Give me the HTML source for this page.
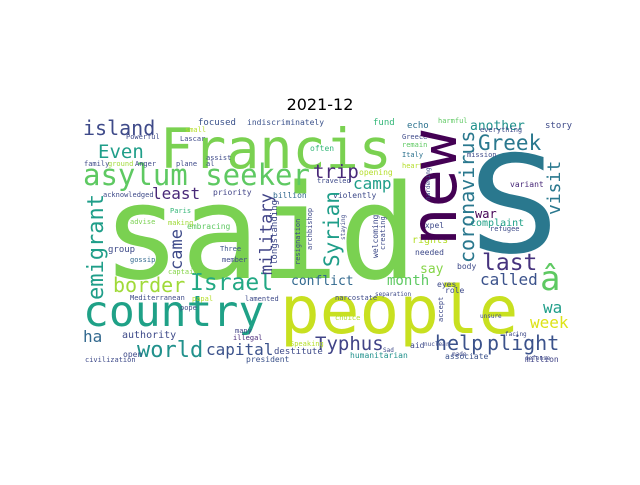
<!DOCTYPE html>
<html><head><meta charset="utf-8"><style>
html,body{margin:0;padding:0;background:#fff;}
svg text{font-family:"DejaVu Sans Mono","Liberation Mono",monospace;}
</style></head><body>
<svg width="640" height="480" xmlns="http://www.w3.org/2000/svg">
<rect width="640" height="480" fill="#fff"/>
<text x="320" y="110" font-size="16" text-anchor="middle" fill="#000" style="font-family:'DejaVu Sans',sans-serif">2021-12</text>
<g id="cloud"></g>
</svg>
<script>
const words=["said","S","people","Francis","country","asylum seeker","island","Even","least","border","Israel","world","capital","ha","authority","trip","camp","Greek","another","last","called","say","month","conflict","help","plight","Typhus","week","wa","â","war","complaint","rights","fund","echo","focused","indiscriminately","priority","billion","group","embracing","advise","making","Paris","gossip","captain","Three","member","pope","papal","open","destitute","president","civilization","Mediterranean","lamented","many","illegal","violently","opening","variant","humanitarian","aid","associate","million","needed","body","eyes","role","expel","refugee","Greece","Italy","remain","mission","everything","story","Lascar","assist","al","plane","family","ground","Anger","Powerful","small","acknowledged","often","heart","traveled","harmful","choice","Speaking","made","Sad","nuclear","facing","unsure","defense","narcostate","separation"];
const sizes=[131,135,66,55,43,29,20,19,16,20,23,22,16,16,10,19,16,21,13,23,16,13,14,13,20,20,19,16,16,34,12,10,10,9,9,9,8,8,8,9,8,7,7,7,7,7,7,7,7,7,8,9,8,7,7,7,7,7,8,8,8,8,8,8,8,8,8,8,8,8,7,7,7,7,7,7,9,7,7,7,7,7,7,7,7,7,7,8,7,7,7,7,7,6,6,6,6,6,6,7,6];
const xs=[102,468,280,160,83,83,83,98,152,113,190,137,206,83,122,313,353,478,470,482,480,420,387,291,435,487,315,530,543,540,475,470,412,373,407,198,247,213,273,108,187,130,168,170,130,168,220,222,180,192,123,274,246,85,130,245,235,233,333,359,510,350,410,445,525,415,457,437,445,420,490,402,402,402,467,480,545,180,206,206,176,84,108,135,126,185,103,310,402,317,438,335,290,452,383,424,505,480,525,335,375];
const ys=[278,252,333,168,326,185,135,158,199,292,290,357,355,342,338,178,189,150,130,270,285,273,285,285,350,350,350,328,313,290,218,226,243,125,128,125,125,195,198,252,229,224,225,213,262,274,251,262,310,301,357,354,362,362,300,301,333,340,198,175,187,358,348,359,362,255,269,287,293,228,231,139,157,147,157,132,128,141,160,166,166,166,166,166,139,132,197,151,168,183,123,320,346,356,352,346,336,318,360,300,296];
const colors=["#7ad151","#2a788e","#c8e020","#7ad151","#1fa187","#5ec962","#3e4a89","#1f9e89","#482878","#a0da39","#22a884","#21918c","#3b528b","#31688e","#3e4a89","#482878","#1f9e89","#2a788e","#21918c","#46337e","#3b528b","#86d549","#5ec962","#31688e","#3b528b","#3b528b","#414487","#dde318","#1f9e89","#5ec962","#440154","#1fa187","#b5de2b","#35b779","#2c728e","#3b528b","#3b528b","#414487","#31688e","#3e4a89","#5ec962","#7ad151","#a0da39","#35b779","#31688e","#86d549","#3b528b","#3e4a89","#3e4a89","#b5de2b","#3e4a89","#3e4a89","#3b528b","#3e4a89","#3e4a89","#3e4a89","#414487","#482878","#3e4a89","#b5de2b","#482878","#21918c","#3e4a89","#3b528b","#414487","#3e4a89","#3e4a89","#3e4a89","#3e4a89","#3e4a89","#3e4a89","#3e4a89","#2c728e","#5ec962","#3e4a89","#3e4a89","#3e4a89","#3e4a89","#3e4a89","#3e4a89","#3e4a89","#3e4a89","#a0da39","#3e4a89","#3e4a89","#b5de2b","#3e4a89","#35b779","#b5de2b","#3e4a89","#5ec962","#b5de2b","#b5de2b","#3e4a89","#3e4a89","#3e4a89","#3e4a89","#3e4a89","#3e4a89","#3e4a89","#3e4a89"];
const vwords=["new","emigrant","military","came","Syrian","coronavirus","visit","longstanding","welcoming","creating","archbishop","resignation","staying","hardening","accept"];
const vsizes=[64,22,17,17,21,20,18,9,8,7,7,7,6,6,7];
const vxs=[456,103,272,182,339,474,560,277,378,385,312,300,345,430,443];
const vys=[246,300,275,270,267,263,215,265,258,250,250,265,240,200,322];
const vcolors=["#440154","#1f9e89","#414487","#3e4a89","#1f9e89","#2a788e","#2a788e","#3e4a89","#3e4a89","#3e4a89","#3e4a89","#3e4a89","#3e4a89","#3e4a89","#3e4a89"];
const NS='http://www.w3.org/2000/svg';
const g=document.getElementById('cloud');
for(let i=0;i<words.length;i++){
 const t=document.createElementNS(NS,'text');
 
 
 t.setAttribute('x',xs[i]);t.setAttribute('y',ys[i]);
 t.setAttribute('font-size',sizes[i]);t.setAttribute('fill',colors[i]);
 if(words[i]==='S'){t.setAttribute('textLength',Math.round(sizes[i]*0.68));t.setAttribute('lengthAdjust','spacingAndGlyphs');}
 t.textContent=words[i];g.appendChild(t);
}
for(let i=0;i<vwords.length;i++){
 const t=document.createElementNS(NS,'text');
 
 
 t.setAttribute('x',vxs[i]);t.setAttribute('y',vys[i]);
 t.setAttribute('font-size',vsizes[i]);t.setAttribute('fill',vcolors[i]);
 t.setAttribute('transform','rotate(-90 '+vxs[i]+' '+vys[i]+')');
 t.textContent=vwords[i];g.appendChild(t);
}
</script>
</body></html>
